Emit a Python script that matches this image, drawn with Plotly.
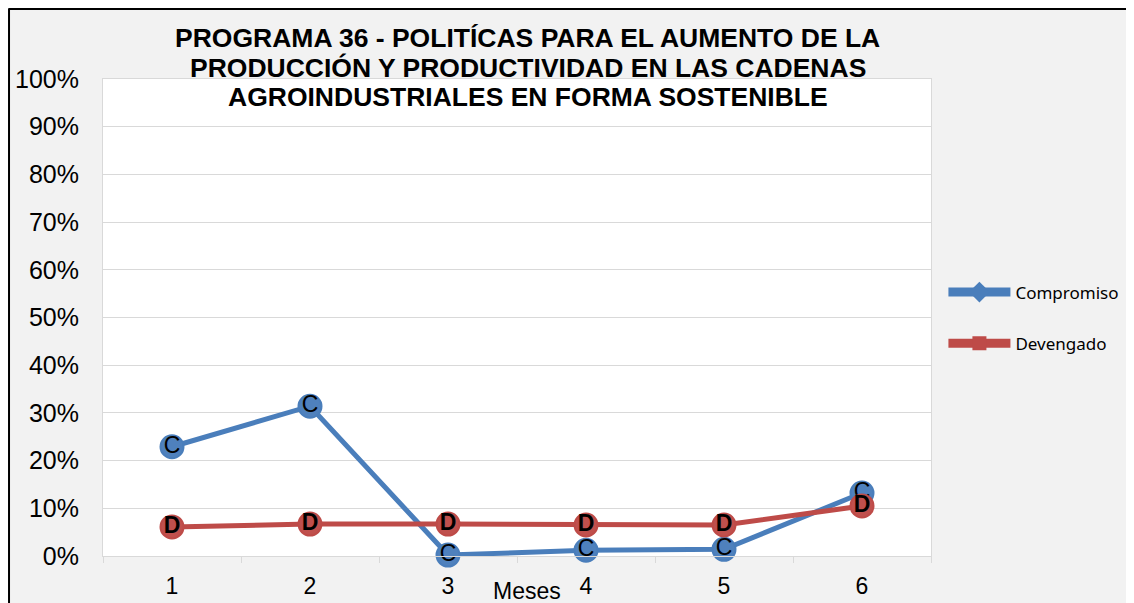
import plotly.graph_objects as go

# data
meses = ["1", "2", "3", "4", "5", "6"]
compromiso = [0.229, 0.314, 0.002, 0.012, 0.014, 0.132]
devengado = [0.061, 0.067, 0.067, 0.065, 0.065, 0.105]
y_ticks = [0, 0.1, 0.2, 0.3, 0.4, 0.5, 0.6, 0.7, 0.8, 0.9, 1.0]
y_tick_text = ["0%", "10%", "20%", "30%", "40%", "50%", "60%", "70%", "80%", "90%", "100%"]
title_lines = [
    "PROGRAMA 36 - POLITÍCAS PARA EL AUMENTO DE LA",
    "PRODUCCIÓN Y PRODUCTIVIDAD EN LAS CADENAS",
    "AGROINDUSTRIALES EN FORMA SOSTENIBLE",
]

BLUE = "#4a7ebb"
RED = "#be4b48"
GRID = "#d9d9d9"
BG = "#f2f2f2"
FONT = "Liberation Sans"

fig = go.Figure()

# the visible series (circle markers carrying the C / D letters)
fig.add_trace(go.Scatter(
    x=meses, y=compromiso, mode="lines+markers+text",
    line=dict(color=BLUE, width=5),
    marker=dict(symbol="circle", size=23, color="#4f81bd", line=dict(color=BLUE, width=2)),
    text=["C"] * len(meses), textposition="middle center",
    textfont=dict(family=FONT, size=23, color="black"),
    showlegend=False, cliponaxis=False,
))
fig.add_trace(go.Scatter(
    x=meses, y=devengado, mode="lines+markers+text",
    line=dict(color=RED, width=5),
    marker=dict(symbol="circle", size=23, color="#c0504d", line=dict(color=RED, width=2)),
    text=["D"] * len(meses), textposition="middle center",
    textfont=dict(family=FONT, size=23, color="black", weight="bold"),
    showlegend=False, cliponaxis=False,
))

# legend-only entries (diamond / square like the original)
fig.add_trace(go.Scatter(
    x=[None], y=[None], mode="lines+markers", name="Compromiso",
    line=dict(color=BLUE, width=9), marker=dict(symbol="diamond", size=16, color=BLUE),
    legendgroup="c",
))
fig.add_trace(go.Scatter(
    x=[None], y=[None], mode="lines+markers", name="Devengado",
    line=dict(color=RED, width=9), marker=dict(symbol="square", size=14, color=RED),
    legendgroup="d",
))

for i, line in enumerate(title_lines):
    fig.add_annotation(
        text=f"<b>{line}</b>", xref="paper", yref="paper",
        x=0.513, y=1.086 - i * 0.062, xanchor="center", yanchor="middle",
        showarrow=False, font=dict(family=FONT, size=26.5, color="black"),
    )

fig.add_annotation(
    text="Meses", xref="paper", yref="paper", x=0.512, y=-0.073,
    xanchor="center", yanchor="middle", showarrow=False,
    font=dict(family=FONT, size=23, color="black"),
)

# black frame along the top and left edges of the figure
fig.add_shape(type="line", xref="paper", yref="paper", x0=-0.114, x1=1.3, y0=1.147, y1=1.147,
              line=dict(color="black", width=2))
fig.add_shape(type="line", xref="paper", yref="paper", x0=-0.1135, x1=-0.1135, y0=-0.2, y1=1.148,
              line=dict(color="black", width=2))

fig.update_xaxes(
    type="category", range=[-0.5, 5.5], tickson="boundaries", ticks="outside", ticklen=6,
    tickcolor=GRID, showline=True, linecolor=GRID, linewidth=1, mirror=True, showgrid=False,
    tickfont=dict(family=FONT, size=23, color="black"), ticklabelstandoff=9,
    automargin=False,
)
fig.update_yaxes(
    range=[0, 1], tickvals=y_ticks, ticktext=y_tick_text,
    showgrid=True, gridcolor=GRID, gridwidth=1, zeroline=False,
    showline=True, linecolor=GRID, linewidth=1, mirror=True, ticks="",
    tickfont=dict(family=FONT, size=25, color="black"), ticklabelstandoff=18,
    automargin=False,
)

fig.update_layout(
    width=1126, height=595,
    margin=dict(l=95, r=203, t=71, b=47, autoexpand=False),
    paper_bgcolor=BG, plot_bgcolor="white",
    legend=dict(
        x=1.015, y=0.59, xanchor="left", yanchor="top",
        font=dict(family="Noto Sans", size=17, color="black"),
        bgcolor="rgba(0,0,0,0)", tracegroupgap=26, itemwidth=62,
    ),
)

fig.write_html("out.html")
